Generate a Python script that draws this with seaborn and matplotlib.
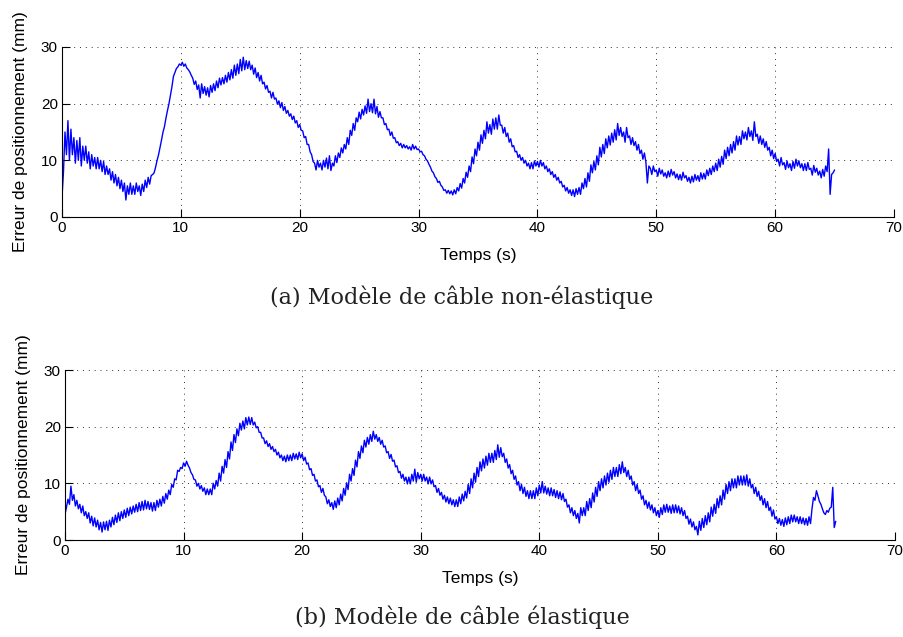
import numpy as np
import pandas as pd
import matplotlib
matplotlib.use("Agg")
import matplotlib.pyplot as plt
import seaborn as sns

sns.set_theme(style="white")
plt.rcParams['font.family'] = ['Liberation Sans', 'DejaVu Sans']

# Time step between samples (s)
dt = 0.125

# (a) non-elastic cable model: positioning error (mm), one value every 0.125 s from 0 to 65 s
err_a = [
    3.5, 8, 15, 11, 17, 10, 15.5, 11,
    14, 9.5, 13.5, 10, 14, 9, 12.5, 10,
    12.5, 9.5, 11.5, 8.5, 11, 9, 10.5, 8.5,
    10.5, 8.5, 10, 8, 9.8, 7.5, 9, 7.5,
    8.5, 6.5, 8, 6, 7.5, 5.5, 7, 5,
    6.5, 4.5, 6, 3, 5.5, 4, 6, 4,
    5.5, 4, 6, 4.5, 5.5, 3.8, 5.8, 4.5,
    6.5, 5.2, 7, 5.8, 7.3, 7.5, 7.8, 8.8,
    10, 11, 12.3, 13.6, 15, 16, 17.5, 18.8,
    20, 21.5, 23, 24.8, 25.5, 26.2, 26.5, 27,
    26.8, 27.3, 26.6, 27, 26.3, 26, 25.6, 25,
    24.5, 23.4, 24, 22.5, 23.3, 21, 23.5, 21.8,
    23, 21.5, 22.8, 21.2, 23.2, 22, 23.5, 22.3,
    24, 22.8, 24.5, 23.3, 24.6, 23.5, 25, 23.8,
    25.5, 24.2, 26, 24.5, 26.8, 25, 27, 25.3,
    27.8, 25.8, 28.2, 26, 27.6, 26.2, 27.5, 26,
    26.8, 25.2, 26.3, 24.6, 25.5, 24, 25, 23.5,
    23.8, 22.6, 23.2, 22, 22.2, 21, 22, 20.8,
    21, 19.9, 20.5, 19.3, 20.2, 18.8, 19.5, 18.3,
    18.8, 17.8, 18.2, 17.2, 17.8, 16.6, 17, 15.8,
    16.3, 15.3, 15.2, 14, 14.2, 12.8, 12.8, 11.5,
    11, 9.8, 9.5, 8.3, 10, 8.8, 9.5, 8.3,
    10, 8.8, 10.4, 8.5, 10.8, 8.2, 9.5, 9,
    10.8, 9.6, 11.3, 10.5, 12.2, 11.3, 12.8, 12,
    14, 12.8, 15.3, 14.4, 16.5, 15.3, 17.5, 16.8,
    18.5, 17.3, 19, 18, 19.6, 18.3, 20.8, 18.6,
    20, 18.4, 20.8, 18.2, 19.5, 17.6, 18.6, 17.5,
    17.5, 16.3, 16.5, 15.4, 15.5, 14.4, 15, 13.9,
    14, 13.1, 13.3, 12.6, 13, 12.2, 12.8, 12.2,
    12.6, 12, 12.4, 11.8, 12.8, 12, 12.5, 11.9,
    12, 11.5, 11.6, 11, 10.8, 10.2, 9.9, 9.3,
    8.8, 8.1, 7.8, 7.1, 6.8, 6.1, 6.3, 5.6,
    5.3, 4.7, 4.8, 4.2, 4.7, 4.1, 4.6, 3.9,
    4.8, 4.1, 5.2, 4.6, 5.9, 5.1, 6.8, 6,
    7.9, 7, 9, 8, 10.6, 9.4, 12, 10.8,
    13.2, 11.8, 14.5, 13, 15.3, 13.8, 16.8, 14.8,
    16.3, 14.6, 17.3, 15.5, 17.5, 15.5, 18, 16.2,
    16.2, 14.8, 15.8, 14.2, 14.8, 13.2, 13.8, 12.4,
    12.6, 11.5, 11.6, 10.5, 11, 10, 10.5, 9.5,
    10, 9, 9.5, 8.5, 9.6, 8.5, 9.9, 9,
    9.8, 8.8, 10, 9, 9.6, 8.5, 9, 8,
    8.5, 7.5, 8, 7, 7.5, 6.5, 7, 6,
    6.3, 5.3, 5.6, 4.6, 5.2, 4.2, 4.8, 3.8,
    4.8, 3.6, 5, 4, 5.2, 4, 6, 5,
    6.8, 5.3, 7.8, 6.3, 9.2, 7.8, 9.8, 8.3,
    10.8, 9.2, 12.3, 10.6, 12.8, 11.2, 13.8, 12.2,
    14.3, 12.7, 14.8, 13.2, 15.4, 13.6, 16.5, 14.4,
    15.8, 14.2, 15, 13.2, 15.8, 14, 14.3, 12.8,
    14, 12.6, 13.3, 11.8, 12.8, 11.2, 11.8, 10.2,
    11.3, 9.7, 6, 9, 8.6, 7.5, 9, 8,
    8.3, 7.2, 8.6, 7.6, 8.3, 7.2, 7.8, 6.9,
    8.1, 7.1, 8.4, 7.4, 8, 6.9, 7.6, 6.6,
    7.5, 6.5, 7.9, 6.9, 7.3, 6.3, 7, 6,
    7.2, 6.2, 7.5, 6.5, 7.3, 6.3, 7.8, 6.7,
    7.7, 6.7, 8.3, 7.3, 8.6, 7.5, 9, 8,
    9.5, 8.2, 10.2, 8.8, 10.7, 9.3, 11.8, 10.3,
    12.3, 10.8, 12.8, 11.3, 13.3, 11.8, 14.3, 12.7,
    14.2, 12.8, 15.2, 13.8, 15, 13.6, 15.8, 14.2,
    15.2, 13.5, 16.8, 14.2, 14.6, 13, 14.3, 12.8,
    13.8, 12.3, 13.3, 11.8, 12.3, 10.8, 11.8, 10.3,
    11.2, 9.8, 10.2, 9, 10.5, 9.2, 9.6, 8.4,
    9.9, 8.7, 9.4, 8.2, 9.8, 8.6, 10.2, 9,
    9.9, 8.7, 9.4, 8.2, 9.4, 8.2, 9.6, 8.4,
    8.6, 7.4, 9.1, 7.9, 8.6, 7.4, 8.1, 6.9,
    8.4, 7.2, 9, 8, 12, 4, 7.5, 7.8,
    8.3,
]

# (b) elastic cable model
err_b = [
    4.5, 5.8, 7.2, 6.3, 9.5, 7, 8, 6,
    7, 5.5, 6.3, 4.8, 6, 4.3, 5, 3.8,
    4.8, 3, 4.2, 2.5, 3.9, 2.3, 3.5, 1.8,
    3.1, 1.4, 3.2, 1.8, 3.3, 1.7, 3.5, 2.3,
    4, 2.7, 4.4, 3.1, 4.8, 3.4, 5, 3.8,
    5.3, 4, 5.6, 4.3, 5.8, 4.6, 6, 4.9,
    6.3, 5, 6.6, 5.2, 6.8, 5.3, 7, 5.5,
    6.8, 5.4, 6.6, 5.1, 6.6, 5.2, 7, 5.8,
    7.2, 6, 7.7, 6.5, 8.2, 7.2, 8.8, 8,
    9.8, 9.3, 10.8, 10.6, 12.3, 12.1, 12.8, 12.6,
    13.6, 13, 13.9, 13.2, 12.7, 11.9, 11.5, 10.7,
    10.6, 9.5, 10, 9, 9.6, 8.6, 9.2, 8,
    9, 8, 9, 8, 10, 9, 10.5, 9.5,
    11.8, 10.4, 13, 11.8, 14.2, 12.8, 15.6, 14.3,
    17.3, 15.8, 18.6, 17.2, 19.6, 18.4, 20.6, 19.4,
    21, 19.6, 21.6, 20.3, 21.7, 20.4, 21.6, 20.3,
    20.8, 19.8, 20, 19, 19, 18, 18, 17,
    17.5, 16.5, 17, 16, 16.5, 15.6, 16, 15,
    15.5, 14.5, 15, 14, 14.8, 13.8, 15, 14,
    15, 14, 15.3, 14.3, 15.2, 14.2, 15.5, 14.5,
    15.2, 14, 14.6, 13.4, 13.6, 12.4, 12.6, 11.4,
    11.6, 10.4, 10.6, 9.4, 9.6, 8.4, 9.1, 7.9,
    7.6, 6.4, 7.1, 5.9, 6.6, 5.4, 6.9, 5.7,
    7.4, 6.2, 8.1, 6.9, 9.1, 7.9, 10.1, 8.9,
    11.6, 10.4, 12.6, 11.4, 14.1, 12.9, 15.6, 14.4,
    16.6, 15.4, 17.6, 16.4, 18.1, 16.9, 18.6, 17.4,
    19.2, 17.8, 18.6, 17.4, 18.1, 16.9, 17.6, 16.4,
    16.6, 15.4, 15.6, 14.4, 15.1, 13.9, 14.1, 12.9,
    13.1, 11.9, 12.1, 10.9, 11.6, 10.4, 11.1, 9.9,
    11.1, 9.9, 11.6, 10.4, 12.5, 10.2, 11.9, 10.8,
    11.6, 10.4, 11.6, 10.4, 11.1, 9.9, 11.1, 9.9,
    10.6, 9.4, 9.6, 8.4, 9.1, 7.9, 8.4, 7.2,
    7.9, 6.7, 7.6, 6.4, 7.4, 6.2, 7.1, 5.9,
    7.1, 5.9, 7.6, 6.4, 8.1, 6.9, 8.6, 7.4,
    9.8, 8.2, 10.8, 9.2, 11.8, 10.2, 12.8, 11.2,
    13.8, 12.2, 14.3, 12.7, 14.8, 13.2, 15.3, 13.7,
    15.3, 13.7, 15.8, 14.2, 16.8, 14.6, 16.3, 14.7,
    15.3, 13.7, 14.3, 12.7, 13.3, 11.7, 12.3, 10.7,
    11.3, 9.7, 10.3, 8.7, 9.8, 8.2, 9.3, 7.7,
    8.7, 7.3, 8.7, 7.3, 8.7, 7.3, 9.2, 7.8,
    9.7, 8.3, 10.3, 8.3, 9.5, 8.1, 9.2, 7.8,
    9.2, 7.8, 8.9, 7.5, 8.7, 7.3, 8.5, 7.1,
    8.2, 6.8, 7.2, 5.8, 6.2, 4.8, 5.7, 4.3,
    5.2, 3.8, 4.7, 3, 5.7, 4.3, 5.7, 4.3,
    6.8, 5.2, 7.3, 5.7, 8.3, 6.7, 9.3, 7.7,
    10.3, 8.7, 10.8, 9.2, 11.3, 9.7, 11.8, 10.2,
    12.3, 10.7, 12.8, 11.2, 12.8, 11.2, 13.3, 11.7,
    13.8, 11.9, 12.8, 11.2, 12.3, 10.7, 11.3, 9.7,
    10.3, 8.7, 9.8, 8.2, 8.8, 7.2, 7.8, 6.2,
    7, 5.6, 6.7, 5.3, 6.2, 4.8, 5.7, 4.3,
    5.2, 4, 5.7, 4.5, 6.2, 4.9, 6.3, 4.9,
    6, 4.7, 6.2, 4.8, 6.2, 4.8, 6, 4.6,
    5.7, 4.3, 5.2, 3.8, 4.2, 2.8, 3.7, 2.3,
    3.2, 1.8, 2.4, 0.9, 3.3, 1.7, 3.8, 2.2,
    4.3, 2.7, 4.8, 3.2, 5.8, 4.2, 6.3, 4.7,
    7.3, 5.7, 7.8, 6.2, 8.8, 7.2, 9.8, 8.2,
    10.3, 8.7, 10.8, 9.2, 10.8, 9.2, 11.3, 9.7,
    11.3, 9.7, 11.3, 9.7, 11.5, 9.5, 10.8, 9.2,
    9.8, 8.2, 9.3, 7.7, 8.6, 7, 7.8, 6.2,
    7.3, 5.7, 6.8, 5.2, 5.8, 4.2, 5.3, 3.7,
    4.1, 2.9, 3.8, 2.6, 3.6, 2.4, 3.9, 2.7,
    4.1, 2.9, 4.4, 3.2, 4.4, 3.2, 4.1, 2.9,
    4.1, 2.9, 3.9, 2.7, 3.8, 2.6, 4.1, 2.9,
    5.5, 7.5, 7, 8.7, 7.8, 6.8, 6.3, 5.5,
    4.8, 4.5, 5.2, 4.9, 5.6, 5.8, 9.3, 2.2,
    3.3,
]

x_ticks = [0, 10, 20, 30, 40, 50, 60, 70]
y_ticks = [0, 10, 20, 30]
x_label = "Temps (s)"
y_label = "Erreur de positionnement (mm)"
captions = ["(a) Modèle de câble non-élastique", "(b) Modèle de câble élastique"]

df_a = pd.DataFrame({"t": np.arange(len(err_a)) * dt, "e": err_a})
df_b = pd.DataFrame({"t": np.arange(len(err_b)) * dt, "e": err_b})

fig = plt.figure(figsize=(9.04, 6.37), dpi=100)
ax_a = fig.add_axes([62/904, 1-217/637, 832/904, 170/637])
ax_b = fig.add_axes([65/904, 1-540/637, 830/904, 170/637])

for ax, df, cap, cy in [(ax_a, df_a, captions[0], 1-297/637), (ax_b, df_b, captions[1], 1-617/637)]:
    sns.lineplot(data=df, x="t", y="e", ax=ax, color=(0, 0, 1), linewidth=1.0,
                 estimator=None, sort=False)
    ax.set_xlim(0, 70)
    ax.set_ylim(0, 30)
    ax.set_xticks(x_ticks)
    ax.set_yticks(y_ticks)
    ax.grid(True, color="black", linestyle=(0, (1, 5)), linewidth=0.7, alpha=0.8)
    ax.set_axisbelow(True)
    for s in ["top", "right"]:
        ax.spines[s].set_visible(False)
    for s in ["left", "bottom"]:
        ax.spines[s].set_color("black")
        ax.spines[s].set_linewidth(0.8)
    ax.tick_params(direction="in", length=6, width=0.8, colors="black",
                   labelsize=11, pad=3, bottom=True, left=True)
    ax.set_xlabel(x_label, fontsize=12.5, labelpad=9, color="black")
    ax.set_ylabel(y_label, fontsize=12.5, labelpad=9, color="black")
    fig.text(0.511, cy, cap, ha="center", va="center", fontsize=16,
             family=["DejaVu Serif"], color="#222222")

fig.savefig("out.png", dpi=100)
